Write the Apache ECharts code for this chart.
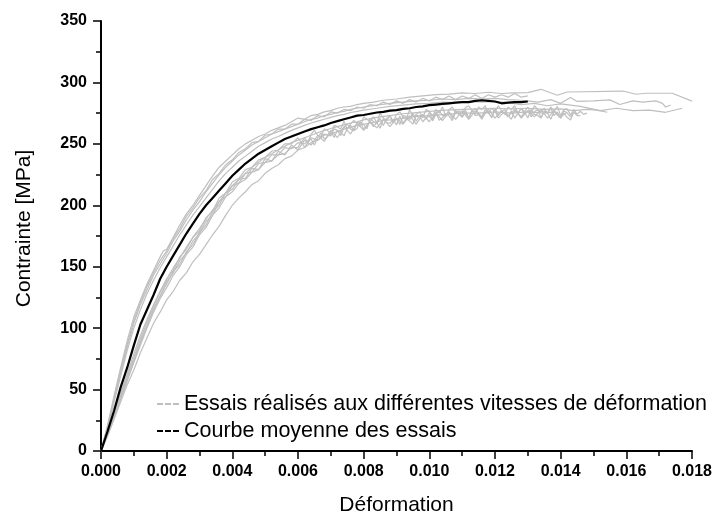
<!DOCTYPE html>
<html>
<head>
<meta charset="utf-8">
<script src="https://cdn.jsdelivr.net/npm/echarts@6/dist/echarts.min.js"></script>
<style>
html,body{margin:0;padding:0;background:#fff;}
#chart{width:715px;height:521px;}
</style>
</head>
<body>
<div id="chart"></div>
<script>
// ---- Data (strain [-], stress [MPa]) ----
const xTicks = [0.000,0.002,0.004,0.006,0.008,0.010,0.012,0.014,0.016,0.018];
const yTicks = [0,50,100,150,200,250,300,350];
const legendNames = ['Essais réalisés aux différentes vitesses de déformation','Courbe moyenne des essais'];

const testU1 = [[0,0],[0.0002,21],[0.0004,45],[0.0006,68],[0.0008,90],[0.0010,109],[0.0012,123],[0.0014,136],[0.0016,147],[0.0018,158],[0.0019,163],[0.0020,164],[0.0022,174],[0.0024,184],[0.0026,193],[0.0028,200],[0.0030,208],[0.0032,216],[0.0034,224],[0.0036,231],[0.0038,236],[0.0040,241],[0.0042,246],[0.0044,250],[0.0046,253],[0.0048,256],[0.0050,258],[0.0052,261],[0.0054,263],[0.0056,265],[0.0058,268],[0.0060,271],[0.0062,270],[0.0064,273],[0.0066,274],[0.0068,276],[0.0070,277],[0.0072,279],[0.0074,280],[0.0076,280.5],[0.0078,282],[0.0080,283],[0.0083,284],[0.0086,285.5],[0.0090,286.5],[0.0094,288],[0.0098,289],[0.0102,290],[0.0106,290.5],[0.0110,291.5],[0.0114,291],[0.0118,292],[0.0122,291],[0.0126,291.5],[0.0130,291.7],[0.0134,294.4],[0.0139,289.6],[0.0142,292.2],[0.0159,293],[0.0163,290.4],[0.0166,291.2],[0.0174,291.2],[0.0180,284.8]];

const testU2 = [[0,0],[0.0002,19],[0.0004,42],[0.0006,64],[0.0008,85],[0.0010,104],[0.0012,119],[0.0014,131],[0.0016,143],[0.0018,152],[0.0020,161],[0.0022,171],[0.0024,179],[0.0026,188],[0.0028,196],[0.0030,203],[0.0032,211],[0.0034,218],[0.0036,225],[0.0038,231],[0.0040,236],[0.0042,241],[0.0044,245],[0.0046,249],[0.0048,252],[0.0050,255],[0.0052,258],[0.0054,260],[0.0056,262],[0.0058,264],[0.0060,266],[0.0062,268],[0.0064,270],[0.0066,271],[0.0068,273],[0.0070,274],[0.0072,275.5],[0.0074,276.5],[0.0076,278],[0.0078,279],[0.0080,280],[0.0084,281.5],[0.0088,283],[0.0092,284],[0.0096,285],[0.0100,285.5],[0.0104,286.5],[0.0108,286],[0.0112,287],[0.0116,286.5],[0.0120,287],[0.0124,286],[0.0128,285.5],[0.0130,285],[0.0133,284],[0.0137,286],[0.0140,283],[0.0143,287.7],[0.0145,284.5],[0.0150,285],[0.0155,285.8],[0.0158,282],[0.0162,285],[0.0165,284],[0.0169,285],[0.0171,283],[0.0172,280],[0.01735,281.6]];

const testU3 = [[0,0],[0.0002,18],[0.0004,40],[0.0006,61],[0.0008,82],[0.0010,100],[0.0012,115],[0.0014,128],[0.0016,139],[0.0018,149],[0.0020,158],[0.0022,167],[0.0024,176],[0.0026,184],[0.0028,192],[0.0030,199],[0.0032,206],[0.0034,213],[0.0036,220],[0.0038,226],[0.0040,231],[0.0042,236],[0.0044,240],[0.0046,244],[0.0048,248],[0.0050,251],[0.0052,254],[0.0054,256],[0.0056,258.5],[0.0058,261],[0.0060,263],[0.0062,265],[0.0064,267],[0.0066,268.5],[0.0068,270],[0.0070,271.5],[0.0072,273],[0.0074,274],[0.0076,275.5],[0.0078,276.5],[0.0080,277.5],[0.0084,279],[0.0088,280.5],[0.0092,281.5],[0.0096,282.5],[0.0100,283],[0.0104,284],[0.0108,283.5],[0.0112,284.5],[0.0116,284],[0.0120,284.5],[0.0124,283.5],[0.0128,282],[0.0132,283],[0.0136,281],[0.0140,282.5],[0.0146,280.5],[0.0152,277],[0.0157,279],[0.0162,277],[0.0167,277.5],[0.0172,275.7],[0.0177,279]];

const testU4 = [[0,0],[0.0002,20],[0.0004,43],[0.0006,66],[0.0008,87],[0.0010,106],[0.0012,121],[0.0014,134],[0.0016,145],[0.0018,155],[0.0020,163],[0.0022,173],[0.0024,181],[0.0026,191],[0.0028,198],[0.0030,206],[0.0032,212],[0.0034,221],[0.0036,226],[0.0038,233],[0.0040,237],[0.0042,243],[0.0044,246],[0.0046,251],[0.0048,252],[0.0050,257],[0.0052,258],[0.0054,262],[0.0056,262],[0.0058,266],[0.0060,266],[0.0062,270],[0.0064,269],[0.0066,273],[0.0068,272],[0.0070,276],[0.0072,275],[0.0074,278],[0.0076,277],[0.0078,280],[0.0080,279],[0.0082,282],[0.0084,281],[0.0086,284],[0.0088,282],[0.0090,285],[0.0092,283],[0.0094,286],[0.0096,284],[0.0098,287],[0.0100,285],[0.0102,288],[0.0104,286],[0.0106,289],[0.0108,286],[0.0110,289],[0.0112,287],[0.0114,290],[0.0116,287],[0.0118,290],[0.0120,288],[0.0122,290],[0.0124,288],[0.0126,291],[0.0128,288],[0.0130,289]];

const testM1 = [[0,0],[0.0002,15],[0.0004,31],[0.0006,47],[0.0008,63],[0.0010,79],[0.0012,94],[0.0014,107],[0.0016,119],[0.0018,130],[0.0020,140],[0.0022,149],[0.0024,157],[0.0026,166],[0.0028,174],[0.0030,181],[0.0032,189],[0.0034,196],[0.0036,203],[0.0038,210],[0.0040,216],[0.0042,221],[0.0044,226],[0.0046,231],[0.0048,235],[0.0050,239],[0.0052,242],[0.0054,245],[0.0056,248],[0.0058,251],[0.0060,253],[0.0062,255],[0.0064,257],[0.0066,259],[0.0068,261],[0.0070,262.5],[0.0072,264],[0.0074,265.5],[0.0076,267],[0.0078,268],[0.0080,269.5],[0.0084,271.5],[0.0088,273],[0.0092,274.5],[0.0096,275.5],[0.0100,276.5],[0.0105,277.5],[0.0110,278],[0.0115,278.5],[0.0120,279],[0.0125,278.5],[0.0130,279],[0.0135,278],[0.0140,278.5],[0.0144,277],[0.0148,278],[0.0151,277.5],[0.01542,275.7]];

const testT1 = [[0,0],[0.0002,15],[0.0004,31],[0.0006,46],[0.0008,61],[0.0010,76],[0.0012,91],[0.0014,105],[0.0016,118],[0.0018,129],[0.0020,140],[0.0022,147],[0.0024,158],[0.0026,164],[0.0028,174],[0.0030,179],[0.0032,190],[0.0034,195],[0.0036,206],[0.0038,210],[0.0040,219],[0.0042,222],[0.0044,229],[0.0046,231],[0.0048,237],[0.0050,239],[0.0052,244],[0.0054,245],[0.0056,250],[0.0058,250],[0.0060,255],[0.0061,251],[0.0062,255],[0.0063,251],[0.0064,258],[0.0065,261],[0.0066,257],[0.0067,256],[0.0068,262],[0.0069,261],[0.0070,257.5],[0.0071,265],[0.0072,264],[0.0073,262],[0.0074,268.5],[0.0075,262],[0.0076,266],[0.0077,269],[0.0078,266.5],[0.0079,264],[0.0080,272],[0.0081,270],[0.0082,268],[0.0083,272],[0.0084,267],[0.0085,275],[0.0086,271],[0.0087,269],[0.0088,273],[0.0089,268],[0.0090,274],[0.0091,276],[0.0092,272],[0.0093,270],[0.0094,278],[0.0095,272],[0.0096,274],[0.0097,276],[0.0098,271],[0.0099,278],[0.0100,276.5],[0.0101,272.7],[0.0102,278],[0.0103,275],[0.0104,280],[0.0105,272.5],[0.0106,277.7],[0.0107,280],[0.0108,275],[0.0109,277],[0.0110,274.5],[0.0111,279.6],[0.0112,281],[0.0113,277],[0.0114,274],[0.0115,280],[0.0116,278],[0.0117,281],[0.0118,275],[0.0119,279],[0.0120,276],[0.0121,281],[0.0122,277],[0.0123,274],[0.0124,280],[0.0125,278],[0.0126,281],[0.0127,275],[0.0128,279],[0.0129,276],[0.0130,280],[0.0131,274],[0.0132,281],[0.0133,278],[0.0134,276],[0.0135,279],[0.0136,275],[0.0137,280],[0.0138,276.5],[0.0139,280.5],[0.0140,273],[0.0141,278],[0.0142,278.5],[0.0143,273.5],[0.0144,278],[0.0145,274],[0.0146,276.5],[0.0147,274],[0.0148,275]];

const testT2 = [[0,0],[0.0002,13],[0.0004,27],[0.0006,42],[0.0008,57],[0.0010,72],[0.0012,86],[0.0014,100],[0.0016,113],[0.0018,124],[0.0020,133],[0.0022,143],[0.0024,150],[0.0026,160],[0.0028,166],[0.0030,176],[0.0032,182],[0.0034,192],[0.0036,198],[0.0038,207],[0.0040,211],[0.0042,218],[0.0044,221],[0.0046,227],[0.0048,229],[0.0050,235],[0.0052,236],[0.0054,241],[0.0056,242],[0.0058,247],[0.0060,247],[0.0061,252],[0.0062,247],[0.0063,251],[0.0064,254],[0.0065,249],[0.0066,255],[0.0067,259],[0.0068,254],[0.0069,255.7],[0.0070,260.5],[0.0071,255.2],[0.0072,261],[0.0073,259.7],[0.0074,256.5],[0.0075,262.2],[0.0076,265],[0.0077,260.7],[0.0078,262.5],[0.0079,268.2],[0.0080,262],[0.0081,265.3],[0.0082,267.7],[0.0083,264],[0.0084,267.4],[0.0085,262.7],[0.0086,270],[0.0087,267.4],[0.0088,266.7],[0.0089,270],[0.0090,265.4],[0.0091,272.7],[0.0092,267],[0.0093,270.4],[0.0094,268.7],[0.0095,266],[0.0096,273.4],[0.0097,272.7],[0.0098,268],[0.0099,271.2],[0.0100,272.5],[0.0101,269.7],[0.0102,275.9],[0.0103,269.1],[0.0104,271.3],[0.0105,274.5],[0.0106,272.7],[0.0107,268.9],[0.0108,276.1],[0.0109,274.3],[0.0110,271.5],[0.0111,275.6],[0.0112,270.7],[0.0113,277.8],[0.0114,272.9],[0.0115,274],[0.0116,270],[0.0117,276],[0.0118,275],[0.0119,272],[0.0120,277],[0.0121,271],[0.0122,274],[0.0123,276],[0.0124,273],[0.0125,270],[0.0126,277],[0.0127,275],[0.0128,272],[0.0129,276],[0.0130,271],[0.0131,278],[0.0132,274],[0.0133,273],[0.0134,271],[0.0135,276],[0.0136,275],[0.0137,270],[0.0138,276.5],[0.0139,273.5],[0.0140,271],[0.0141,275],[0.0142,271.5],[0.0143,269.5],[0.0144,276],[0.0145,273],[0.0146,273]];

const testT3 = [[0,0],[0.0002,14],[0.0004,29],[0.0006,44],[0.0008,58],[0.0010,73],[0.0012,88],[0.0014,101],[0.0016,115],[0.0018,126],[0.0020,136],[0.0022,146],[0.0024,152],[0.0026,162],[0.0028,168],[0.0030,178],[0.0032,184],[0.0034,195],[0.0036,200],[0.0038,210],[0.0040,213],[0.0042,221],[0.0044,222],[0.0046,230],[0.0048,229],[0.0050,238],[0.0052,236],[0.0054,244],[0.0056,241],[0.0058,249],[0.0060,245],[0.0062,253],[0.0064,249],[0.0066,257],[0.0068,252],[0.0070,261],[0.0072,255],[0.0074,264],[0.0076,258],[0.0078,267],[0.0080,261],[0.0082,268],[0.0084,263],[0.0086,270],[0.0088,264],[0.0090,271],[0.0092,266],[0.0094,273],[0.0096,266],[0.0098,274],[0.0100,268],[0.0102,275],[0.0104,269],[0.0106,276],[0.0108,270],[0.0110,277],[0.0112,270],[0.0114,277],[0.0116,271],[0.0118,278],[0.0120,271],[0.0122,277],[0.0124,272],[0.0126,278],[0.0128,271],[0.0130,277],[0.0132,272],[0.0134,278],[0.0136,271],[0.0138,277],[0.0140,272],[0.0142,276]];

const testT4 = [[0,0],[0.0002,14],[0.0004,29],[0.0006,45],[0.0008,60],[0.0010,74],[0.0012,89],[0.0014,102],[0.0016,116],[0.0018,126],[0.0020,138],[0.0022,145],[0.0024,155],[0.0026,161],[0.0028,171],[0.0030,177],[0.0032,187],[0.0034,192],[0.0036,203],[0.0038,207],[0.0040,216],[0.0042,218],[0.0044,226],[0.0046,227],[0.0048,234],[0.0050,235],[0.0052,241],[0.0054,241],[0.0056,247],[0.0058,246],[0.0060,251],[0.0062,250],[0.0064,255],[0.0066,253],[0.0068,258],[0.0070,256.5],[0.0071,262.2],[0.0072,261],[0.0073,256.7],[0.0074,263.5],[0.0075,266.2],[0.0076,262],[0.0077,260.7],[0.0078,267.5],[0.0079,267.2],[0.0080,266],[0.0081,262.3],[0.0082,270.7],[0.0083,268],[0.0084,266.4],[0.0085,270.7],[0.0086,265],[0.0087,270.4],[0.0088,272.7],[0.0089,267],[0.0090,270.4],[0.0091,265.7],[0.0092,273],[0.0093,272.4],[0.0094,269.7],[0.0095,275],[0.0096,268.4],[0.0097,272.7],[0.0098,274],[0.0099,270.2],[0.0100,275.5],[0.0101,268.7],[0.0102,273.9],[0.0103,277.1],[0.0104,273.3],[0.0105,272.5],[0.0106,275.7],[0.0107,270.9],[0.0108,277.1],[0.0109,275.3],[0.0110,272.5],[0.0111,277.6],[0.0112,270.7],[0.0113,276.8],[0.0114,278.9],[0.0115,275],[0.0116,272],[0.0117,278],[0.0118,276],[0.0119,271],[0.0120,279],[0.0121,273],[0.0122,276.5],[0.0123,278],[0.0124,272],[0.0125,277],[0.0126,271],[0.0127,275],[0.0128,279],[0.0129,274],[0.0130,277],[0.0131,272],[0.0132,276],[0.0133,278],[0.0134,271],[0.0135,277],[0.0136,275],[0.0137,279],[0.0138,273],[0.0139,276],[0.0140,271],[0.0141,277],[0.0142,275],[0.0143,272],[0.0144,276],[0.0145,274]];

const testLo = [[0,0],[0.0002,12],[0.0004,26],[0.0006,40],[0.0008,54],[0.0010,66],[0.0012,80],[0.0014,92],[0.0016,104],[0.0018,113],[0.0020,123],[0.0022,130],[0.0024,139],[0.0026,145],[0.0028,154],[0.0030,160],[0.0032,168],[0.0034,176],[0.0036,183],[0.0038,192],[0.0040,200],[0.0042,206],[0.0044,211],[0.0046,217],[0.0048,220],[0.0050,226],[0.0052,230],[0.0054,233],[0.0056,238],[0.0058,240],[0.0060,245],[0.0062,247],[0.0064,251],[0.0066,253],[0.0068,257],[0.0070,258],[0.0074,262],[0.0078,265],[0.0082,267],[0.0086,269],[0.0090,270],[0.0095,272],[0.0100,273],[0.0105,274],[0.0110,275],[0.0115,275],[0.0120,276],[0.0125,275],[0.0130,276],[0.0135,275],[0.0138,276]];

const meanCurve = [[0,0],[0.0002,16],[0.0004,33],[0.0006,52],[0.0008,68],[0.0010,86],[0.0012,103],[0.0014,115],[0.0016,127],[0.0018,140],[0.0020,150],[0.0022,159],[0.0024,168],[0.0026,177],[0.0028,185],[0.0030,193],[0.0032,200],[0.0034,206],[0.0036,212],[0.0038,218],[0.0040,224],[0.0042,229],[0.0044,234],[0.0046,238],[0.0048,242],[0.0050,245],[0.0052,248],[0.0054,251],[0.0056,254],[0.0058,256],[0.0060,258],[0.0062,260],[0.0064,262],[0.0066,263.5],[0.0068,265],[0.0070,267],[0.0072,268.5],[0.0074,270],[0.0076,271.5],[0.0078,273],[0.0080,273.5],[0.0082,274.5],[0.0084,275.5],[0.0086,276],[0.0088,277],[0.0090,277.5],[0.0092,278.5],[0.0094,279],[0.0096,280],[0.0098,280.5],[0.0100,281.5],[0.0102,282],[0.0104,282.5],[0.0106,283],[0.0108,283.5],[0.0110,284],[0.0112,284],[0.0114,285],[0.0116,285.5],[0.0118,285],[0.0120,284.5],[0.0122,283],[0.0124,283.5],[0.0126,284],[0.0128,284],[0.0130,284.5]];

const testCurves = [testU1, testU2, testU3, testU4, testM1, testT1, testT2, testT3, testT4, testLo];

// ---- Chart ----
const GRAY = '#bfbfbf';
const FONT = '"Liberation Sans", Arial, sans-serif';
const chart = echarts.init(document.getElementById('chart'), null, {renderer: 'canvas'});

const series = testCurves.map(d => ({
  name: legendNames[0], type: 'line', data: d, showSymbol: false, symbol: 'none',
  color: GRAY, lineStyle: {color: GRAY, width: 1.2}, silent: true, z: 2
}));
series.push({
  name: legendNames[1], type: 'line', data: meanCurve, showSymbol: false, symbol: 'none',
  color: '#000', lineStyle: {color: '#000', width: 2.2}, silent: true, z: 3
});

const dashIcon = 'path://M0,0H6V2H0Z M8,0H14V2H8Z M16,0H22V2H16Z';

chart.setOption({
  animation: false,
  backgroundColor: '#fff',
  textStyle: {fontFamily: FONT},
  grid: {left: 101, top: 21, width: 592, height: 436, containLabel: false},
  legend: {
    orient: 'vertical', left: 157, top: 393, padding: 0, itemGap: 5,
    itemWidth: 22, itemHeight: 2,
    textStyle: {fontFamily: FONT, fontSize: 21.5, color: '#000'},
    data: [
      {name: legendNames[0], icon: dashIcon, itemStyle: {color: GRAY}},
      {name: legendNames[1], icon: dashIcon, itemStyle: {color: '#000'}}
    ],
    selectedMode: false
  },
  xAxis: {
    type: 'value', min: 0, max: 0.018, interval: 0.002,
    name: 'Déformation', nameLocation: 'middle', nameGap: 44,
    nameTextStyle: {fontFamily: FONT, fontSize: 21, color: '#000'},
    axisLine: {show: true, onZero: false, lineStyle: {color: '#000', width: 2}},
    axisTick: {show: true, inside: false, length: 8, lineStyle: {color: '#000', width: 1.5}},
    minorTick: {show: true, splitNumber: 2, length: 5, lineStyle: {color: '#000', width: 1.5}},
    axisLabel: {margin: 13, fontFamily: FONT, fontSize: 16, fontWeight: 'bold', color: '#000',
      formatter: v => v.toFixed(3)},
    splitLine: {show: false}, minorSplitLine: {show: false}
  },
  yAxis: {
    type: 'value', min: 0, max: 350, interval: 50,
    name: 'Contrainte [MPa]', nameLocation: 'middle', nameGap: 66, nameRotate: 90,
    nameTextStyle: {fontFamily: FONT, fontSize: 21, color: '#000', padding: [0, 0, 0, 15]},
    axisLine: {show: true, onZero: false, lineStyle: {color: '#000', width: 2}},
    axisTick: {show: true, inside: false, length: 8, lineStyle: {color: '#000', width: 1.5}},
    minorTick: {show: true, splitNumber: 2, length: 5, lineStyle: {color: '#000', width: 1.5}},
    axisLabel: {margin: 14, fontFamily: FONT, fontSize: 16, fontWeight: 'bold', color: '#000'},
    splitLine: {show: false}, minorSplitLine: {show: false}
  },
  series: series
});
</script>
</body>
</html>
